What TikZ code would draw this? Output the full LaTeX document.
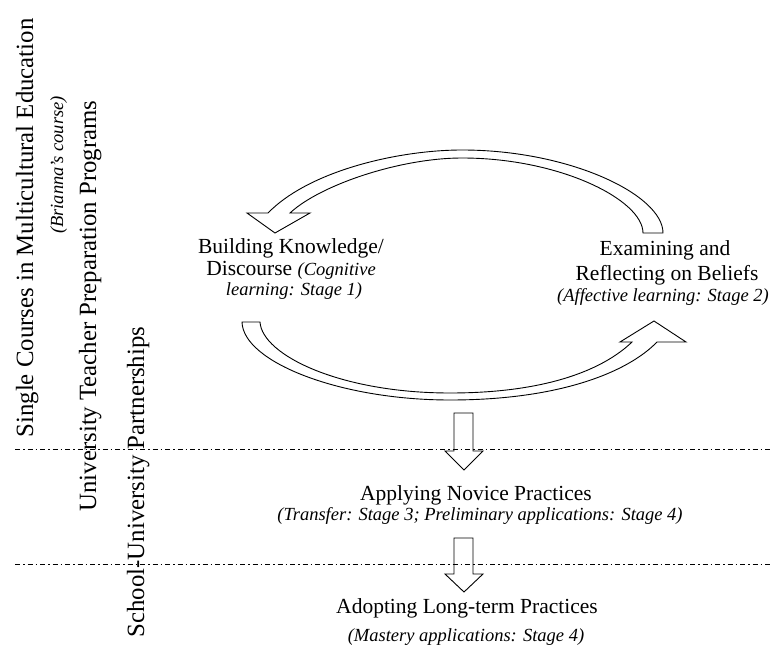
\documentclass[tikz,border=0pt]{standalone}
\usepackage{fontspec}
\setmainfont{Liberation Serif}
\newcommand\mainsz{\fontsize{21.5}{24}\selectfont}
\newcommand\notesz{\fontsize{18.5}{22}\selectfont\itshape}
\newcommand\sidesz{\fontsize{24.8}{28}\selectfont}
\begin{document}
\begin{tikzpicture}[x=1pt,y=-1pt,
  band/.style={draw=black,line width=0.9pt,line join=miter},
  sepline/.style={draw=black,line width=0.8pt,dash pattern=on 5pt off 3pt on 1.5pt off 3pt},
  lbl/.style={inner sep=0pt,anchor=base,font=\mainsz},
  note/.style={inner sep=0pt,anchor=base,font=\notesz},
  side/.style={inner sep=0pt,anchor=base,rotate=90,font=\sidesz},
  sidenote/.style={inner sep=0pt,anchor=base,rotate=90,font=\notesz}]
\useasboundingbox (0,0) rectangle (771,647);

% separator lines
\draw[sepline] (15,449) -- (771,449);
\draw[sepline] (15,564) -- (771,564);

% side labels
\node[side] (s1) at (33,228) {Single Courses in Multicultural Education};
\node[sidenote] (s1b) at (63,165) {(Brianna's course)};
\node[side] (s2) at (96,306) {University Teacher Preparation Programs};
\node[side] (s3) at (144,482) {School-University Partnerships};

% top arc (right to left)
\draw[band] (643,233) -- (663,233)
  .. controls (663,195) and (570,150) .. (462,150)
  .. controls (400,150) and (310,170) .. (268,213)
  -- (247,213) -- (275,233) -- (310,213) -- (290,213)
  .. controls (320,185) and (400,158) .. (462,158)
  .. controls (560,158) and (643,200) .. (643,233) -- cycle;

% bottom arc (left to right)
\draw[band] (242,322) -- (260,322)
  .. controls (262,355) and (340,393) .. (450,393)
  .. controls (550,393) and (605,368) .. (632,342)
  -- (620,342) -- (654,321) -- (686,342) -- (657,342)
  .. controls (628,372) and (560,400) .. (450,400)
  .. controls (340,400) and (243,362) .. (242,322) -- cycle;

% down arrows
\draw[band] (454,413) -- (473,413) -- (473,451) -- (483,451) -- (464,470) -- (445,451) -- (454,451) -- cycle;
\draw[band] (454,538) -- (473,538) -- (473,574) -- (483,574) -- (464,592) -- (445,574) -- (454,574) -- cycle;

% left cycle label
\node[lbl] (bk1) at (291,253) {Building Knowledge/};
\node[lbl] (bk2) at (291,275) {Discourse {\notesz(Cognitive}};
\node[note] (bk3) at (294,295) {learning: Stage 1)};

% right cycle label
\node[lbl] (ex1) at (665,255) {Examining and};
\node[lbl] (ex2) at (667,280) {Reflecting on Beliefs};
\node[note] (ex3) at (663,301) {(Affective learning: Stage 2)};

% lower stages
\node[lbl] (ap1) at (476,500) {Applying Novice Practices};
\node[note] (ap2) at (480,520) {(Transfer: Stage 3; Preliminary applications: Stage 4)};
\node[lbl] (ad1) at (467,613) {Adopting Long-term Practices};
\node[note] (ad2) at (466,641) {(Mastery applications: Stage 4)};
\end{tikzpicture}
\end{document}
